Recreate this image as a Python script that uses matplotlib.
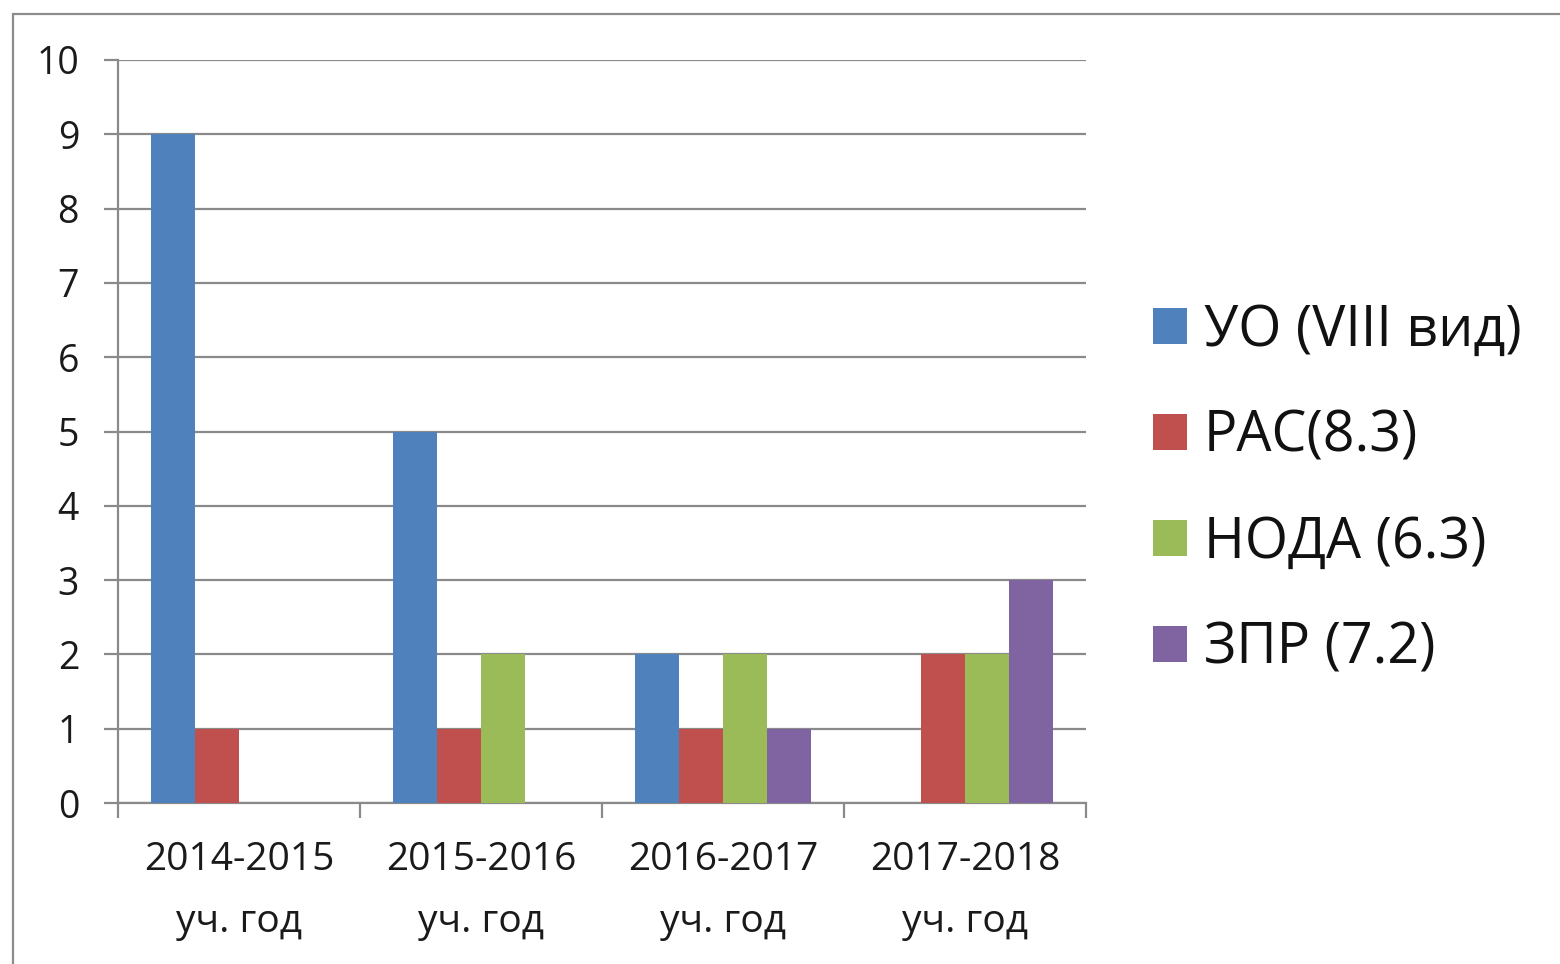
import numpy as np
import matplotlib
matplotlib.use("Agg")
import matplotlib.pyplot as plt
from matplotlib.patches import Rectangle, Patch
from matplotlib.ticker import FixedLocator

plt.rcParams['font.family'] = ['Open Sans', 'DejaVu Sans']

years = ['2014-2015\nуч. год', '2015-2016\nуч. год', '2016-2017\nуч. год', '2017-2018\nуч. год']
series_names = ['УО (VIII вид)', 'РАС(8.3)', 'НОДА (6.3)', 'ЗПР (7.2)']
uo = [9, 5, 2, 0]
ras = [1, 1, 1, 2]
noda = [0, 2, 2, 2]
zpr = [0, 0, 1, 3]
colors = ['#4F81BD', '#C0504D', '#9BBB59', '#8064A2']

grid_col = '#8a8a8a'
text_col = '#1a1a1a'

fig = plt.figure(figsize=(15.6, 9.64), dpi=100)
W, H = 1560, 964

# outer chart border
fig.patches.append(Rectangle((13 / W, -0.1), 1.2, 1 - 14 / H + 0.1,
                             transform=fig.transFigure, fill=False,
                             edgecolor='#8c8c8c', linewidth=1.6))

ax = fig.add_axes([118 / W, 1 - 803 / H, (1086 - 118) / W, (803 - 60) / H])

x = np.arange(len(years))
w = 0.181
for i, (vals, name) in enumerate(zip([uo, ras, noda, zpr], series_names)):
    ax.bar(x + (i - 1.5) * w, vals, width=w, color=colors[i], label=name, zorder=3)

ax.set_xlim(-0.5, len(years) - 0.5)
ax.set_ylim(0, 10)
ax.set_yticks(range(0, 11))
ax.yaxis.grid(True, color=grid_col, linewidth=1.6, zorder=0)
ax.set_axisbelow(True)

for s in ['top', 'right']:
    ax.spines[s].set_visible(False)
for s in ['left', 'bottom']:
    ax.spines[s].set_color(grid_col)
    ax.spines[s].set_linewidth(1.6)

ax.tick_params(axis='y', length=10, width=1.6, color=grid_col, pad=18,
               labelsize=27, labelcolor=text_col)

# category labels at centers, tick marks at category boundaries
ax.set_xticks(x)
ax.set_xticklabels(years, linespacing=1.85)
ax.xaxis.set_minor_locator(FixedLocator(np.arange(-0.5, len(years), 1.0)))
ax.tick_params(axis='x', which='major', length=0, pad=27, labelsize=28,
               labelcolor=text_col)
ax.tick_params(axis='x', which='minor', length=11, width=1.6, color=grid_col)

handles = [Patch(facecolor=c, edgecolor='none') for c in colors]
fig.legend(handles, series_names, loc='center left',
           bbox_to_anchor=(1103 / W, 1 - 490 / H), frameon=False,
           fontsize=40, handlelength=0.62, handleheight=0.62,
           handletextpad=0.3, labelspacing=0.88, labelcolor='#111111')

fig.savefig('out.png', dpi=100)
